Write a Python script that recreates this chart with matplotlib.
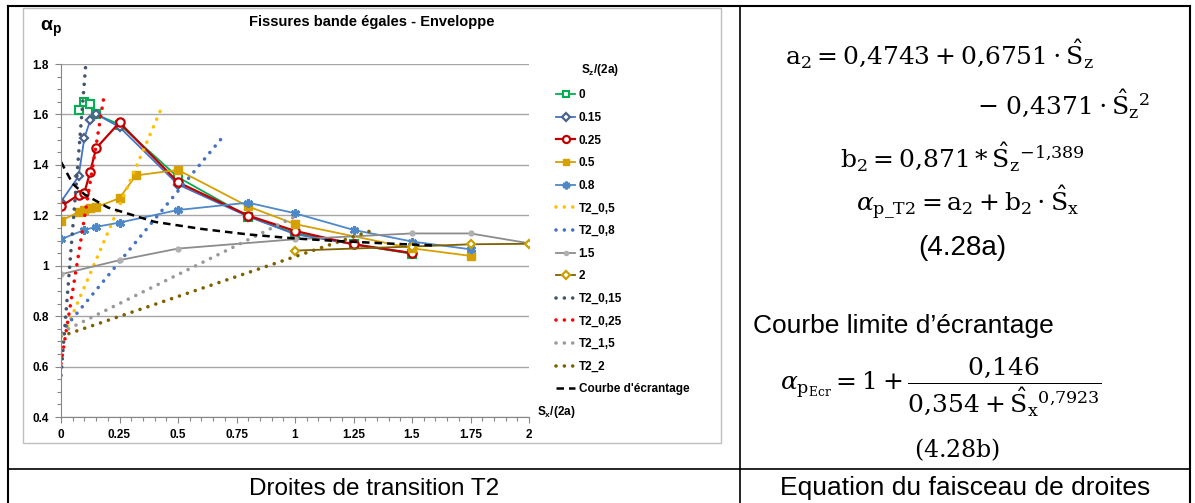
import matplotlib
matplotlib.use('Agg')
import matplotlib.pyplot as plt
from matplotlib.ticker import MultipleLocator

plt.rcParams['font.family'] = ['Liberation Sans', 'DejaVu Sans']
plt.rcParams['mathtext.fontset'] = 'custom'
plt.rcParams['mathtext.rm'] = 'Liberation Sans'
plt.rcParams['mathtext.it'] = 'Liberation Sans:italic'
plt.rcParams['mathtext.bf'] = 'Liberation Sans:bold'

# ---- data ----
# measured envelopes, one series per Sz/(2a)
x_0 = [0.075, 0.1, 0.125, 0.15, 0.25, 0.5, 0.8, 1.0, 1.25, 1.5]
y_0 = [1.617, 1.649, 1.641, 1.60, 1.56, 1.351, 1.195, 1.129, 1.085, 1.047]

x_015 = [0, 0.075, 0.1, 0.125, 0.15, 0.25, 0.5, 0.8, 1.0, 1.25, 1.5]
y_015 = [1.254, 1.354, 1.508, 1.576, 1.601, 1.55, 1.322, 1.195, 1.125, 1.085, 1.05]

x_025 = [0, 0.075, 0.1, 0.125, 0.15, 0.25, 0.5, 0.8, 1.0, 1.25, 1.5]
y_025 = [1.235, 1.281, 1.29, 1.373, 1.466, 1.568, 1.331, 1.199, 1.138, 1.085, 1.05]

x_05 = [0, 0.075, 0.1, 0.125, 0.15, 0.25, 0.32, 0.5, 0.8, 1.0, 1.5, 1.75]
y_05 = [1.179, 1.212, 1.219, 1.228, 1.232, 1.268, 1.358, 1.38, 1.235, 1.165, 1.069, 1.039]

x_08 = [0, 0.1, 0.15, 0.25, 0.5, 0.8, 1.0, 1.25, 1.5, 1.75]
y_08 = [1.105, 1.142, 1.154, 1.171, 1.221, 1.25, 1.208, 1.142, 1.096, 1.065]

x_15 = [0, 0.25, 0.5, 1.0, 1.5, 1.75, 2.0]
y_15 = [0.966, 1.022, 1.068, 1.105, 1.128, 1.128, 1.089]

x_2 = [1.0, 1.5, 1.75, 2.0]
y_2 = [1.06, 1.076, 1.085, 1.087]

# transition lines T2 (start and end of each straight line)
x_t2_05 = [0, 0.427]
y_t2_05 = [0.70, 1.62]
x_t2_08 = [0, 0.687]
y_t2_08 = [0.735, 1.506]
x_t2_015 = [0, 0.106]
y_t2_015 = [0.565, 1.80]
x_t2_025 = [0, 0.182]
y_t2_025 = [0.612, 1.662]
x_t2_15 = [0, 1.0]
y_t2_15 = [0.735, 1.195]
x_t2_2 = [0, 1.345]
y_t2_2 = [0.72, 1.145]

# screening limit curve
x_ecr = [0, 0.05, 0.1, 0.2, 0.4, 0.6, 0.8, 1.0, 1.2, 1.4, 1.6]
y_ecr = [1.412, 1.325, 1.283, 1.231, 1.174, 1.146, 1.124, 1.108, 1.097, 1.088, 1.080]

x_ticks = [0, 0.25, 0.5, 0.75, 1, 1.25, 1.5, 1.75, 2]
x_tick_labels = ['0', '0.25', '0.5', '0.75', '1', '1.25', '1.5', '1.75', '2']
y_ticks = [0.4, 0.6, 0.8, 1.0, 1.2, 1.4, 1.6, 1.8]
y_tick_labels = ['0.4', '0.6', '0.8', '1', '1.2', '1.4', '1.6', '1.8']

W, H = 1195, 503
fig = plt.figure(figsize=(W / 100, H / 100), dpi=100)

# table frame
def hline(y, x0, x1, **kw):
    fig.add_artist(plt.Line2D([x0 / W, x1 / W], [1 - y / H, 1 - y / H], **kw))

def vline(x, y0, y1, **kw):
    fig.add_artist(plt.Line2D([x / W, x / W], [1 - y0 / H, 1 - y1 / H], **kw))

hline(6, 8, 1190, color='black', lw=1.5)
hline(469, 8, 1190, color='black', lw=1.2)
vline(8, 6, 503, color='black', lw=1.5)
vline(740, 6, 503, color='black', lw=1.2)
vline(1190, 6, 503, color='black', lw=1.5)

# chart area border
chart_box = plt.Rectangle((23 / W, 1 - 443 / H), (721 - 23) / W, (443 - 8) / H,
                          transform=fig.transFigure, fill=False, ec='#BFBFBF', lw=1.0)
fig.add_artist(chart_box)

ax = fig.add_axes([61 / W, 1 - 417 / H, 468 / W, 353 / H])

dot = (0, (0.01, 2.3))
dot_kw = dict(lw=2.6, linestyle=dot, dash_capstyle='round')

ax.plot(x_0, y_0, color='#00B050', lw=1.3, marker='s', ms=5.5, mfc='white', mec='#00B050', mew=1.5, label='0')
ax.plot(x_015, y_015, color='#4472C4', lw=1.3, marker='D', ms=4.5, mfc='white', mec='#4A6389', mew=1.6, label='0.15')
ax.plot(x_025, y_025, color='#C00000', lw=1.6, marker='o', ms=6, mfc='white', mec='#C00000', mew=1.6, label='0.25')
ax.plot(x_05, y_05, color='#D6A000', lw=1.3, marker='s', ms=5.5, mfc='#D6A000', mec='#D6A000', label='0.5')
ax.plot(x_08, y_08, color='#4F88C6', lw=1.3, marker=(6, 2, 0), ms=6.5, mec='#4F88C6', mew=2.0, label='0.8')
ax.plot(x_t2_05, y_t2_05, color='#FFC000', label='T2_0,5', **dot_kw)
ax.plot(x_t2_08, y_t2_08, color='#4472C4', label='T2_0,8', **dot_kw)
ax.plot(x_15, y_15, color='#8C8C8C', lw=1.3, marker='o', ms=3.5, mfc='#B0B0B0', mec='#B0B0B0', label='1.5')
ax.plot(x_2, y_2, color='#7F6000', lw=1.3, marker='D', ms=4.5, mfc='white', mec='#C9A000', mew=1.6, label='2')
ax.plot(x_t2_015, y_t2_015, color='#44546A', label='T2_0,15', **dot_kw)
ax.plot(x_t2_025, y_t2_025, color='#FF0000', label='T2_0,25', **dot_kw)
ax.plot(x_t2_15, y_t2_15, color='#9A9A9A', label='T2_1,5', **dot_kw)
ax.plot(x_t2_2, y_t2_2, color='#7F6000', label='T2_2', **dot_kw)
ax.plot(x_ecr, y_ecr, color='black', lw=1.8, linestyle=(0, (3, 2)), label="Courbe d'écrantage")

ax.set_xlim(0, 2)
ax.set_ylim(0.4, 1.8)
ax.set_xticks(x_ticks)
ax.set_xticklabels(x_tick_labels)
ax.set_yticks(y_ticks)
ax.set_yticklabels(y_tick_labels)
ax.xaxis.set_minor_locator(MultipleLocator(0.05))
ax.yaxis.set_minor_locator(MultipleLocator(0.05))
ax.tick_params(which='both', direction='out', color='#868686', labelsize=8.5)
ax.tick_params(which='major', length=4, width=0.8, pad=5)
ax.tick_params(which='minor', length=3, width=0.8)
for lab in ax.get_xticklabels() + ax.get_yticklabels():
    lab.set_fontweight('bold')
ax.grid(axis='y', color='#A6A6A6', lw=1.0)
ax.set_axisbelow(True)
for side in ['top', 'right']:
    ax.spines[side].set_visible(False)
for side in ['left', 'bottom']:
    ax.spines[side].set_color('#868686')
ax.patch.set_alpha(0)

# titles and axis names
fig.text(372 / W, 1 - 22 / H, 'Fissures bande égales - Enveloppe', ha='center', va='center',
         fontsize=10.5, fontweight='bold')
fig.text(40 / W, 1 - 29 / H, r'$\mathbf{\alpha}_\mathbf{p}$', ha='left', va='center', fontsize=14)
fig.text(537 / W, 1 - 412 / H, r'$\mathbf{S_x/(2a)}$', ha='left', va='center', fontsize=8.5)
fig.text(581 / W, 1 - 70 / H, r'$\mathbf{S_z/(2a)}$', ha='left', va='center', fontsize=8.5)

leg = ax.legend(loc='upper left', bbox_to_anchor=(548 / W, 1 - 81 / H), bbox_transform=fig.transFigure,
                frameon=False, fontsize=8.5, handlelength=1.6, handletextpad=0.3, labelspacing=0.9,
                markerscale=0.85, borderpad=0.2)
for t in leg.get_texts():
    t.set_fontweight('bold')

# right column: equations
eq_kw = dict(fontsize=18, math_fontfamily='dejavuserif', va='baseline')
fig.text(785 / W, 1 - 65 / H,
         r'$\mathrm{a_2} = 0{,}4743 + 0{,}6751 \cdot \hat{\mathrm{S}}_\mathrm{z}$', ha='left', **eq_kw)
fig.text(1150 / W, 1 - 115 / H,
         r'$-\ 0{,}4371 \cdot \hat{\mathrm{S}}_\mathrm{z}{}^{2}$', ha='right', **eq_kw)
fig.text(962 / W, 1 - 168 / H,
         r'$\mathrm{b_2} = 0{,}871 * \hat{\mathrm{S}}_\mathrm{z}{}^{-1{,}389}$', ha='center', **eq_kw)
fig.text(968 / W, 1 - 210 / H,
         r'$\alpha_{\mathrm{p\_T2}} = \mathrm{a_2} + \mathrm{b_2} \cdot \hat{\mathrm{S}}_\mathrm{x}$', ha='center', **eq_kw)
fig.text(962 / W, 1 - 255 / H, '(4.28a)', ha='center', va='baseline', fontsize=20)
fig.text(753 / W, 1 - 333 / H, 'Courbe limite d’écrantage', ha='left', va='baseline', fontsize=19)
fig.text(780 / W, 1 - 390 / H,
         r'$\alpha_{\mathrm{p}_{\mathrm{Ecr}}} = 1 + \dfrac{0{,}146}{0{,}354 + \hat{\mathrm{S}}_\mathrm{x}{}^{0{,}7923}}$',
         ha='left', **eq_kw)
fig.text(957 / W, 1 - 457 / H, r'$(4.28\mathrm{b})$', ha='center', **dict(eq_kw, fontsize=17))
fig.text(965 / W, 1 - 495 / H, 'Equation du faisceau de droites', ha='center', va='baseline', fontsize=19)
fig.text(374 / W, 1 - 495 / H, 'Droites de transition T2', ha='center', va='baseline', fontsize=17.5)

fig.savefig('out.png', dpi=100)
